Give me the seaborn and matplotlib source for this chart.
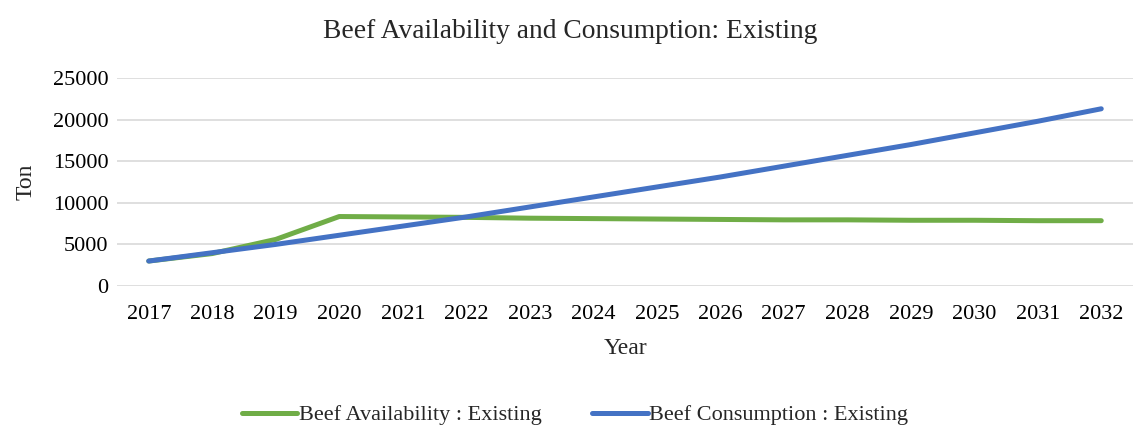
import pandas as pd
import numpy as np
import matplotlib
matplotlib.use("Agg")
import matplotlib.pyplot as plt
import seaborn as sns

# values
years = [2017, 2018, 2019, 2020, 2021, 2022, 2023, 2024,
         2025, 2026, 2027, 2028, 2029, 2030, 2031, 2032]
availability = [3000, 3900, 5600, 8350, 8300, 8250, 8150, 8100,
                8050, 8000, 7950, 7950, 7900, 7900, 7850, 7850]
consumption = [3000, 4000, 5000, 6100, 7200, 8300, 9500, 10700,
               11900, 13100, 14400, 15700, 17000, 18400, 19800, 21300]
series_names = ["Beef Availability : Existing", "Beef Consumption : Existing"]
colors = ["#70AD47", "#4472C4"]

# long format for seaborn
dtf = pd.DataFrame({
    "Year": years * 2,
    "Ton": availability + consumption,
    "Series": [series_names[0]] * len(years) + [series_names[1]] * len(years),
})

sns.set_style("white")
plt.rcParams["font.family"] = ["Liberation Serif", "DejaVu Serif"]

fig = plt.figure(figsize=(11.33, 4.29), dpi=100)
ax = fig.add_axes([117 / 1133, 1 - 286 / 429, (1133 - 117) / 1133, (286 - 78) / 429])

sns.lineplot(data=dtf, x="Year", y="Ton", hue="Series", palette=colors,
             linewidth=3.6, ax=ax, solid_capstyle="round", legend=True)

ax.set_xlim(2016.5, 2032.5)
ax.set_ylim(0, 25000)
ax.set_xticks(years)
ax.set_xticklabels([str(y) for y in years])
ax.set_yticks(np.arange(0, 25001, 5000))
ax.yaxis.grid(True, color="#D9D9D9", linewidth=1.2)
ax.set_axisbelow(True)
for s in ax.spines.values():
    s.set_visible(False)
ax.tick_params(axis="both", length=0, labelsize=16, colors="#000000")
ax.tick_params(axis="x", pad=14)
ax.tick_params(axis="y", pad=6)

ax.set_xlabel("Year", fontsize=17, labelpad=10)
ax.set_ylabel("Ton", fontsize=17, labelpad=12)
fig.text(570 / 1133, 1 - 31 / 429, "Beef Availability and Consumption: Existing",
         ha="center", va="center", fontsize=19.8)

handles, labels = ax.get_legend_handles_labels()
ax.legend(handles, labels, loc="center", bbox_to_anchor=(575 / 1133, 1 - 415 / 429),
          bbox_transform=fig.transFigure,
          ncol=2, frameon=False, fontsize=16, handlelength=2.5,
          handletextpad=0.05, columnspacing=2.3)

fig.savefig("out.png", dpi=100)
